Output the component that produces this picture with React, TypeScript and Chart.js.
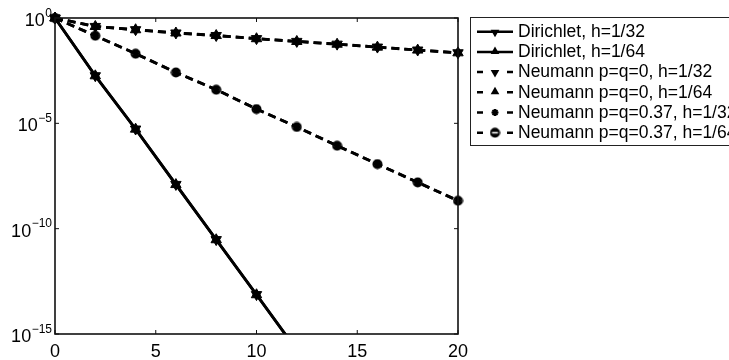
import React, { useEffect, useRef } from "react";
import { Chart, registerables } from "chart.js";

Chart.register(...registerables);

// ---- data ----
const xValues = [0, 2, 4, 6, 8, 10, 12, 14, 16, 18, 20];
const dirichlet32 = [1, 1.82e-3, 5.37e-6, 1.26e-8, 3.02e-11, 7.41e-14, 1.74e-16];
const dirichlet64 = [1, 1.80e-3, 5.30e-6, 1.24e-8, 2.98e-11, 7.3e-14, 1.7e-16];
const neumann0_32 = [1, 0.398, 0.279, 0.195, 0.148, 0.105, 0.0776, 0.0575, 0.0417, 0.0302, 0.0224];
const neumann0_64 = [1, 0.395, 0.277, 0.194, 0.147, 0.104, 0.0770, 0.0570, 0.0414, 0.0300, 0.0222];
const neumann037_32 = [1, 0.145, 0.0204, 2.63e-3, 3.98e-4, 4.79e-5, 6.76e-6, 8.71e-7, 1.17e-7, 1.58e-8, 2.14e-9];
const neumann037_64 = [1, 0.144, 0.0202, 2.6e-3, 3.95e-4, 4.75e-5, 6.7e-6, 8.65e-7, 1.16e-7, 1.57e-8, 2.12e-9];

const seriesLabels = [
  "Dirichlet, h=1/32",
  "Dirichlet, h=1/64",
  "Neumann p=q=0, h=1/32",
  "Neumann p=q=0, h=1/64",
  "Neumann p=q=0.37, h=1/32",
  "Neumann p=q=0.37, h=1/64",
];
const xTickValues = [0, 5, 10, 15, 20];
const yTickExponents = [0, -5, -10, -15];

const FONT = "'Liberation Sans', Arial, Helvetica, sans-serif";

function makeCircleBar(): HTMLCanvasElement {
  const c = document.createElement("canvas");
  c.width = 11;
  c.height = 11;
  const g = c.getContext("2d")!;
  g.fillStyle = "#000";
  g.beginPath();
  g.arc(5.5, 5.5, 5, 0, Math.PI * 2);
  g.fill();
  g.strokeStyle = "#fff";
  g.lineWidth = 1.6;
  g.beginPath();
  g.moveTo(2.5, 5.5);
  g.lineTo(8.5, 5.5);
  g.stroke();
  return c;
}

function toPoints(vals: number[]) {
  return vals.map((v, i) => ({ x: xValues[i], y: v }));
}

export default function App() {
  const ref = useRef<HTMLCanvasElement>(null);

  useEffect(() => {
    document.body.style.margin = "0";
    const canvas = ref.current!;
    const circleBar = makeCircleBar();
    const clip = { left: 10, top: 10, right: 10, bottom: 0 };
    const dash = [8, 5];
    const common = {
      borderColor: "#000",
      backgroundColor: "#000",
      borderWidth: 2.8,
      pointBorderColor: "#000",
      pointBackgroundColor: "#000",
      pointBorderWidth: 1,
      clip,
      tension: 0,
    };

    const legendPlugin = {
      id: "matlabDecor",
      afterDraw(chart: any) {
        const ctx = chart.ctx as CanvasRenderingContext2D;
        const xs = chart.scales.x;
        const ys = chart.scales.y;
        const a = chart.chartArea;
        ctx.save();
        // box
        ctx.strokeStyle = "#111";
        ctx.lineWidth = 1.6;
        ctx.setLineDash([]);
        ctx.strokeRect(a.left, a.top, a.right - a.left, a.bottom - a.top);
        // ticks
        ctx.lineWidth = 1;
        const tl = 4;
        xTickValues.forEach((v) => {
          const px = xs.getPixelForValue(v);
          ctx.beginPath();
          ctx.moveTo(px, a.bottom);
          ctx.lineTo(px, a.bottom - tl);
          ctx.moveTo(px, a.top);
          ctx.lineTo(px, a.top + tl);
          ctx.stroke();
        });
        yTickExponents.forEach((e) => {
          const py = ys.getPixelForValue(Math.pow(10, e));
          ctx.beginPath();
          ctx.moveTo(a.left, py);
          ctx.lineTo(a.left + tl, py);
          ctx.moveTo(a.right, py);
          ctx.lineTo(a.right - tl, py);
          ctx.stroke();
        });
        // x labels
        ctx.fillStyle = "#000";
        ctx.font = `18px ${FONT}`;
        ctx.textAlign = "center";
        ctx.textBaseline = "alphabetic";
        xTickValues.forEach((v) => {
          ctx.fillText(String(v), xs.getPixelForValue(v), a.bottom + 22.5);
        });
        // y labels 10^e
        yTickExponents.forEach((e) => {
          const py = ys.getPixelForValue(Math.pow(10, e));
          const expText = e < 0 ? "\u2212" + String(-e) : String(e);
          ctx.font = `12px ${FONT}`;
          const ew = ctx.measureText(expText).width;
          const right = a.left - 3;
          ctx.textAlign = "left";
          ctx.fillText(expText, right - ew, py - 1.5);
          ctx.font = `18px ${FONT}`;
          ctx.textAlign = "right";
          ctx.fillText("10", right - ew - 0.5, py + 8);
        });
        // legend
        const lx = 470.5;
        const ly = 17.5;
        ctx.fillStyle = "#fff";
        ctx.fillRect(lx, ly, 300, 128);
        ctx.strokeStyle = "#222";
        ctx.lineWidth = 1;
        ctx.strokeRect(lx, ly, 300, 128);
        const drawTri = (x: number, y: number, up: boolean) => {
          const r = 5;
          ctx.beginPath();
          for (let k = 0; k < 3; k++) {
            const ang = (up ? 0 : Math.PI) + (k * 2 * Math.PI) / 3;
            const px = x + Math.sin(ang) * r;
            const py = y - Math.cos(ang) * r;
            if (k === 0) ctx.moveTo(px, py);
            else ctx.lineTo(px, py);
          }
          ctx.closePath();
          ctx.fillStyle = "#000";
          ctx.fill();
        };
        seriesLabels.forEach((lab, i) => {
          const cy = 31.7 + i * 20.2;
          ctx.strokeStyle = "#000";
          ctx.lineWidth = 2.5;
          ctx.setLineDash([]);
          ctx.beginPath();
          if (i < 2) {
            ctx.moveTo(477, cy);
            ctx.lineTo(513, cy);
          } else {
            ctx.moveTo(477, cy);
            ctx.lineTo(483, cy);
            ctx.moveTo(507, cy);
            ctx.lineTo(513, cy);
          }
          ctx.stroke();
          const mx = 495;
          if (i === 0 || i === 2) drawTri(mx, cy + 0.5, false);
          else if (i === 1 || i === 3) drawTri(mx, cy - 0.5, true);
          else if (i === 4) {
            ctx.lineWidth = 2;
            ctx.beginPath();
            const r = 3.5;
            for (let k = 0; k < 4; k++) {
              const ang = (k * Math.PI) / 4;
              ctx.moveTo(mx - Math.cos(ang) * r, cy - Math.sin(ang) * r);
              ctx.lineTo(mx + Math.cos(ang) * r, cy + Math.sin(ang) * r);
            }
            ctx.stroke();
          } else {
            ctx.drawImage(circleBar, mx - 5.5, cy - 5.5);
          }
          ctx.fillStyle = "#000";
          ctx.font = `17.5px ${FONT}`;
          ctx.textAlign = "left";
          ctx.textBaseline = "middle";
          ctx.fillText(lab, 518, cy + 0.5);
          ctx.textBaseline = "alphabetic";
        });
        ctx.restore();
      },
    };

    const chart = new Chart(canvas, {
      type: "line",
      data: {
        datasets: [
          { ...common, label: seriesLabels[0], data: toPoints(dirichlet32), pointStyle: "triangle", pointRotation: 180, pointRadius: 6 },
          { ...common, label: seriesLabels[1], data: toPoints(dirichlet64), pointStyle: "triangle", pointRadius: 6 },
          { ...common, label: seriesLabels[2], data: toPoints(neumann0_32), borderDash: dash, pointStyle: "triangle", pointRotation: 180, pointRadius: 6 },
          { ...common, label: seriesLabels[3], data: toPoints(neumann0_64), borderDash: dash, pointStyle: "triangle", pointRadius: 6 },
          { ...common, label: seriesLabels[4], data: toPoints(neumann037_32), borderDash: dash, pointStyle: "star", pointRadius: 3.5, pointBorderWidth: 2 },
          { ...common, label: seriesLabels[5], data: toPoints(neumann037_64), borderDash: dash, pointStyle: circleBar as any, pointRadius: 5.5 },
        ],
      },
      options: {
        animation: false,
        responsive: false,
        layout: { padding: { left: 55, right: 271, top: 18, bottom: 26 } },
        plugins: { legend: { display: false }, tooltip: { enabled: false } },
        scales: {
          x: { type: "linear", min: 0, max: 20, display: false },
          y: { type: "logarithmic", min: 1e-15, max: 1, display: false },
        },
      },
      plugins: [legendPlugin],
    } as any);
    return () => chart.destroy();
  }, []);

  return (
    <div style={{ width: 729, height: 360, background: "#fff" }}>
      <canvas ref={ref} width={729} height={360} />
    </div>
  );
}
